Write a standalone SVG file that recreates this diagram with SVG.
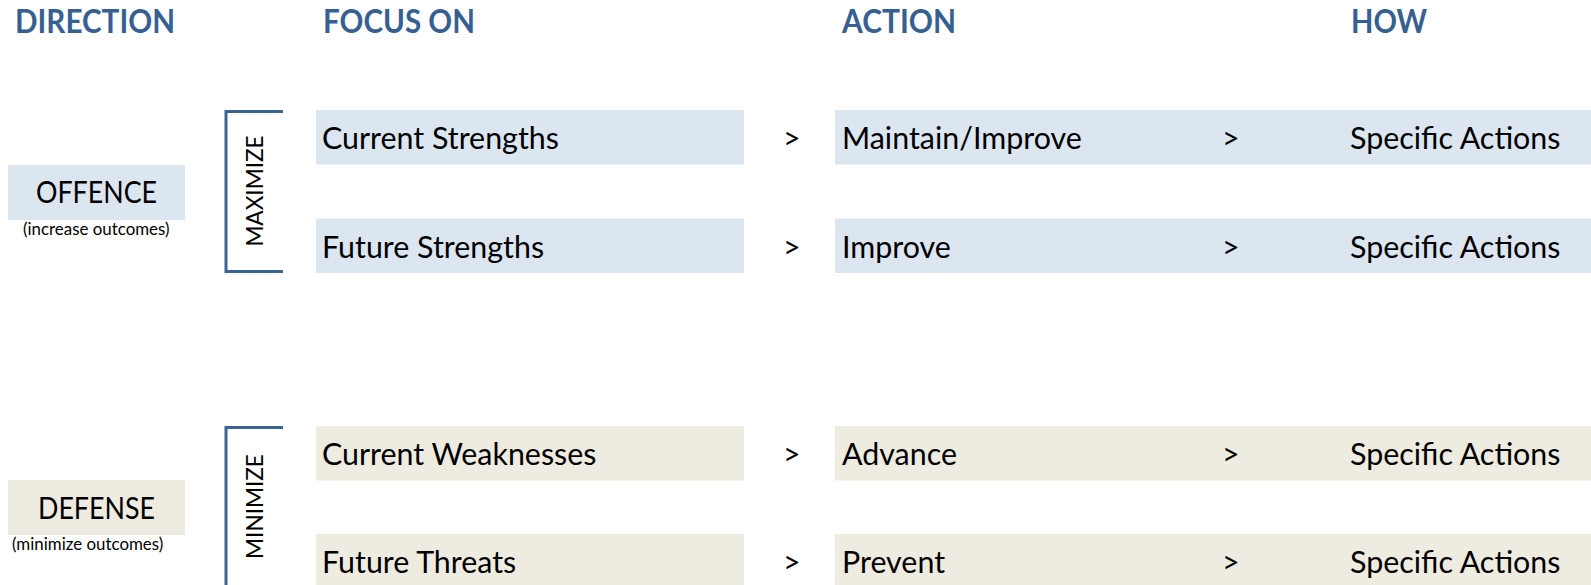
<svg xmlns="http://www.w3.org/2000/svg" width="1591" height="585" viewBox="0 0 1591 585">
  <style>
    .hdr { font-family: Lato, "Liberation Sans", sans-serif; font-weight: bold; font-size: 32px; fill: #376092; }
    .lbl { font-family: Lato, "Liberation Sans", sans-serif; font-size: 30.4px; fill: #000; }
    .note { font-family: Lato, "Liberation Sans", sans-serif; font-size: 16.9px; fill: #000; }
    .side { font-family: Lato, "Liberation Sans", sans-serif; font-size: 22.6px; fill: #000; }
    .blue { fill: #DCE6F1; }
    .tan { fill: #EEECE1; }
    .brk { fill: none; stroke: #3A6494; stroke-width: 3; }
  </style>
  <rect width="1591" height="585" fill="#fff"/>

  <!-- column headers -->
  <g id="headers">
    <text class="hdr" x="15" y="33" textLength="160" lengthAdjust="spacingAndGlyphs">DIRECTION</text>
    <text class="hdr" x="323" y="33" textLength="152" lengthAdjust="spacingAndGlyphs">FOCUS ON</text>
    <text class="hdr" x="842" y="33" textLength="114" lengthAdjust="spacingAndGlyphs">ACTION</text>
    <text class="hdr" x="1351" y="33" textLength="76" lengthAdjust="spacingAndGlyphs">HOW</text>
  </g>

  <!-- direction blocks -->
  <g id="offence">
    <rect class="blue" x="8" y="165" width="177" height="55"/>
    <text class="lbl" x="36" y="203" textLength="121" lengthAdjust="spacingAndGlyphs">OFFENCE</text>
    <text class="note" x="23" y="235">(increase outcomes)</text>
  </g>
  <g id="defense">
    <rect class="tan" x="8" y="480" width="177" height="55"/>
    <text class="lbl" x="38" y="519" textLength="117" lengthAdjust="spacingAndGlyphs">DEFENSE</text>
    <text class="note" x="12" y="550">(minimize outcomes)</text>
  </g>

  <!-- brackets -->
  <g id="maximize">
    <path class="brk" d="M283,111.5 H226 V271.5 H283"/>
    <text class="side" transform="translate(263,191) rotate(-90)" text-anchor="middle">MAXIMIZE</text>
  </g>
  <g id="minimize">
    <path class="brk" d="M283,427.5 H226 V590"/>
    <text class="side" transform="translate(263,506.5) rotate(-90)" text-anchor="middle">MINIMIZE</text>
  </g>

  <!-- focus areas -->
  <g id="current-strengths">
    <rect class="blue" x="316" y="110" width="428" height="54.5"/>
    <text class="lbl" x="322" y="149">Current Strengths</text>
  </g>
  <g id="future-strengths">
    <rect class="blue" x="316" y="218.5" width="428" height="54.5"/>
    <text class="lbl" x="322" y="257.5">Future Strengths</text>
  </g>
  <g id="current-weaknesses">
    <rect class="tan" x="316" y="426" width="428" height="54.5"/>
    <text class="lbl" x="322" y="465">Current Weaknesses</text>
  </g>
  <g id="future-threats">
    <rect class="tan" x="316" y="534" width="428" height="56"/>
    <text class="lbl" x="322" y="573">Future Threats</text>
  </g>

  <!-- actions and how -->
  <g id="maintain-improve">
    <rect class="blue" x="835" y="110" width="756" height="54.5"/>
    <text class="lbl" x="842" y="149">Maintain/Improve</text>
    <text class="lbl" x="1350" y="149">Specific Actions</text>
  </g>
  <g id="improve">
    <rect class="blue" x="835" y="218.5" width="756" height="54.5"/>
    <text class="lbl" x="842" y="257.5">Improve</text>
    <text class="lbl" x="1350" y="257.5">Specific Actions</text>
  </g>
  <g id="advance">
    <rect class="tan" x="835" y="426" width="756" height="54.5"/>
    <text class="lbl" x="842" y="465">Advance</text>
    <text class="lbl" x="1350" y="465">Specific Actions</text>
  </g>
  <g id="prevent">
    <rect class="tan" x="835" y="534" width="756" height="56"/>
    <text class="lbl" x="842" y="573">Prevent</text>
    <text class="lbl" x="1350" y="573">Specific Actions</text>
  </g>

  <!-- flow markers between columns -->
  <g id="connectors" class="lbl">
    <text x="783" y="149">&gt;</text>
    <text x="783" y="257.5">&gt;</text>
    <text x="783" y="465">&gt;</text>
    <text x="783" y="573">&gt;</text>
    <text x="1222" y="149">&gt;</text>
    <text x="1222" y="257.5">&gt;</text>
    <text x="1222" y="465">&gt;</text>
    <text x="1222" y="573">&gt;</text>
  </g>
</svg>
